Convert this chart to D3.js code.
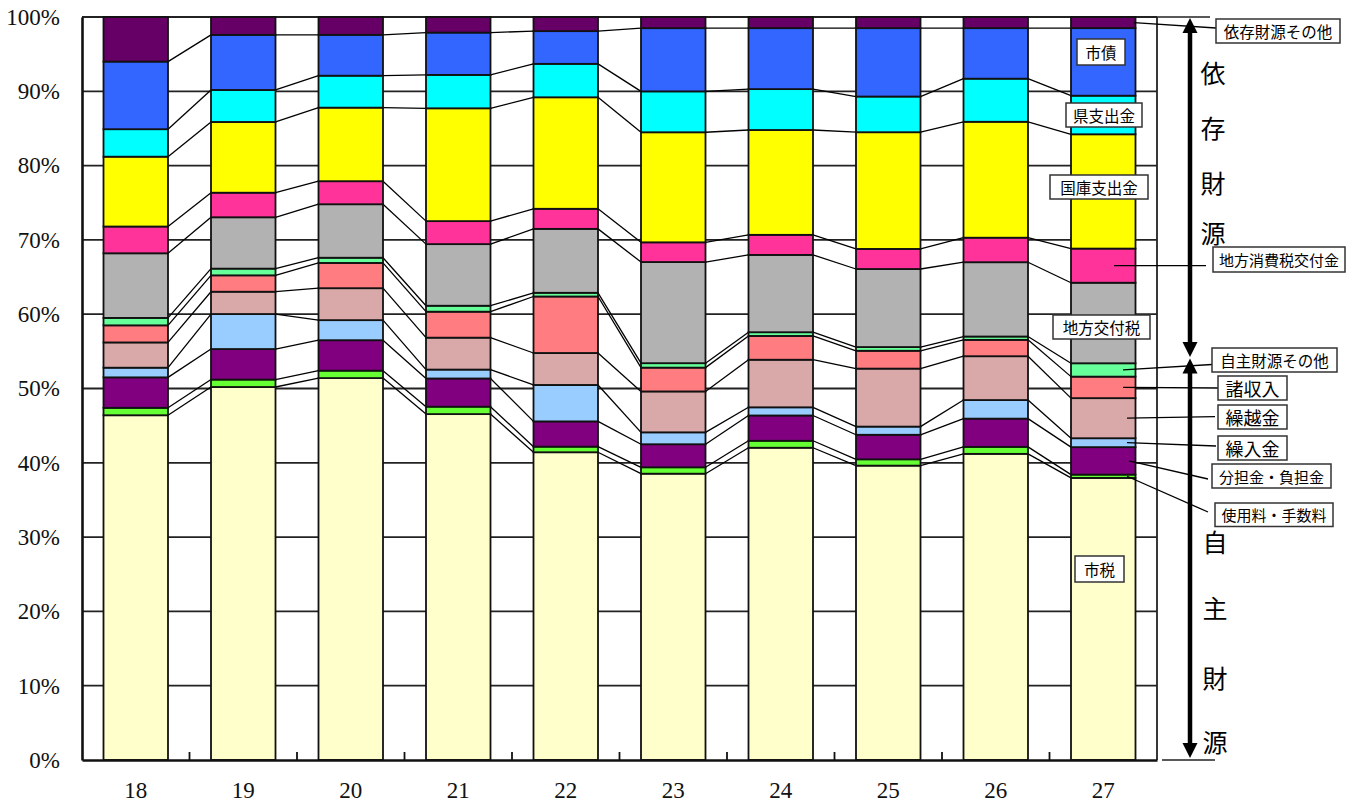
<!DOCTYPE html>
<html>
<head>
<meta charset="utf-8">
<script src="https://cdn.jsdelivr.net/npm/d3@7"></script>
<style>
  body { margin: 0; background: #fff; }
  svg { display: block; }
</style>
</head>
<body>
<div id="chart"></div>
<script>
// years (heisei) on the x axis
var years = ["18", "19", "20", "21", "22", "23", "24", "25", "26", "27"];

// share of revenue by source, %, bottom to top
var shizei      = [46.4, 50.1, 51.4, 46.6, 41.4, 38.5, 42.0, 39.6, 41.2, 38.0];
var shiyoryo    = [1.0, 1.0, 1.0, 1.0, 0.75, 0.86, 0.94, 0.85, 0.94, 0.45];
var buntankin   = [4.1, 4.1, 4.1, 3.8, 3.4, 3.1, 3.4, 3.3, 3.8, 3.7];
var kurirekin   = [1.3, 4.7, 2.7, 1.2, 4.9, 1.6, 1.1, 1.1, 2.5, 1.2];
var kurikoshi   = [3.4, 3.0, 4.3, 4.3, 4.3, 5.5, 6.4, 7.8, 5.9, 5.4];
var shoshunyu   = [2.3, 2.2, 3.4, 3.5, 7.6, 3.2, 3.2, 2.4, 2.2, 2.9];
var jishuOther  = [1.0, 0.9, 0.7, 0.8, 0.5, 0.6, 0.5, 0.5, 0.45, 1.8];
var kofuzei     = [8.7, 6.9, 7.2, 8.3, 8.6, 13.6, 10.4, 10.5, 10.0, 10.85];
var shohizei    = [3.6, 3.3, 3.1, 3.1, 2.7, 2.65, 2.7, 2.7, 3.3, 4.6];
var kokko       = [9.4, 9.5, 9.9, 15.2, 15.0, 14.8, 14.1, 15.7, 15.6, 15.4];
var kenshishutsu = [3.7, 4.3, 4.3, 4.5, 4.5, 5.5, 5.5, 4.8, 5.8, 5.2];
var shisai      = [9.1, 7.4, 5.5, 5.7, 4.4, 8.5, 8.2, 9.2, 6.8, 9.1];
var izonOther   = [6.0, 2.4, 2.4, 2.1, 1.9, 1.5, 1.5, 1.5, 1.5, 1.5];

var seriesNames = ["市税", "使用料・手数料", "分担金・負担金", "繰入金", "繰越金", "諸収入",
  "自主財源その他", "地方交付税", "地方消費税交付金", "国庫支出金", "県支出金", "市債", "依存財源その他"];
var seriesValues = [shizei, shiyoryo, buntankin, kurirekin, kurikoshi, shoshunyu,
  jishuOther, kofuzei, shohizei, kokko, kenshishutsu, shisai, izonOther];
var colors = ["#FFFFCC", "#66FF33", "#800080", "#99CCFF", "#D9A9A9", "#FF7C80",
  "#66FF99", "#B2B2B2", "#FF3399", "#FFFF00", "#00FFFF", "#3366FF", "#660066"];

var yTicks = [0, 0.1, 0.2, 0.3, 0.4, 0.5, 0.6, 0.7, 0.8, 0.9, 1.0];

// build rows for d3.stack
var rows = years.map(function(yr, i) {
  var r = { year: yr };
  seriesNames.forEach(function(n, k) { r[n] = seriesValues[k][i]; });
  return r;
});

var svgWidth = 1359, svgHeight = 805;
var plot = { left: 82, right: 1157, top: 17, bottom: 760 };
var jp = "'Noto Sans CJK JP', 'Noto Sans', sans-serif";
var serif = "'Liberation Serif', 'DejaVu Serif', serif";

var svg = d3.select("#chart").append("svg")
  .attr("width", svgWidth)
  .attr("height", svgHeight);

var x = d3.scaleBand()
  .domain(years)
  .range([plot.left, plot.right])
  .paddingInner(0.4)
  .paddingOuter(0.2);

var y = d3.scaleLinear()
  .domain([0, 1])
  .range([plot.bottom, plot.top]);

var stack = d3.stack()
  .keys(seriesNames)
  .offset(d3.stackOffsetExpand);
var layers = stack(rows);

// gridlines
svg.append("g").selectAll("line")
  .data(yTicks.slice(1))
  .enter().append("line")
    .attr("x1", plot.left).attr("x2", plot.right)
    .attr("y1", function(d) { return y(d); })
    .attr("y2", function(d) { return y(d); })
    .attr("stroke", "#222")
    .attr("stroke-width", 1.8);

// right edge of plot
svg.append("line")
  .attr("x1", plot.right).attr("x2", plot.right)
  .attr("y1", plot.top).attr("y2", plot.bottom)
  .attr("stroke", "#222").attr("stroke-width", 1.8);

// series lines between bars
var bw = x.bandwidth();
layers.slice(0, layers.length - 1).forEach(function(layer) {
  for (var i = 0; i < years.length - 1; i++) {
    svg.append("line")
      .attr("x1", x(years[i]) + bw)
      .attr("y1", y(layer[i][1]))
      .attr("x2", x(years[i + 1]))
      .attr("y2", y(layer[i + 1][1]))
      .attr("stroke", "#000")
      .attr("stroke-width", 1.3);
  }
});

// bars
svg.append("g").selectAll("g")
  .data(layers)
  .enter().append("g")
    .attr("fill", function(d, k) { return colors[k]; })
  .selectAll("rect")
  .data(function(d) { return d; })
  .enter().append("rect")
    .attr("x", function(d) { return x(d.data.year); })
    .attr("y", function(d) { return y(d[1]); })
    .attr("width", bw)
    .attr("height", function(d) { return y(d[0]) - y(d[1]); })
    .attr("stroke", "#111")
    .attr("stroke-width", 1.8);

// y axis
var yAxis = svg.append("g")
  .attr("transform", "translate(" + plot.left + ",0)")
  .call(d3.axisLeft(y).tickValues(yTicks).tickFormat(d3.format(".0%")).tickSize(0).tickPadding(22));
yAxis.select(".domain").attr("stroke", "#111").attr("stroke-width", 2.6);
yAxis.selectAll("text")
  .attr("font-family", serif)
  .attr("font-size", 23)
  .attr("fill", "#111");

// x axis
var xAxis = svg.append("g")
  .attr("transform", "translate(0," + plot.bottom + ")")
  .call(d3.axisBottom(x).tickSize(0).tickPadding(22));
xAxis.select(".domain").attr("stroke", "#111").attr("stroke-width", 2.6);
xAxis.selectAll("text")
  .attr("font-family", serif)
  .attr("font-size", 23)
  .attr("fill", "#111");

// inward ticks between the categories
svg.append("g").selectAll("line")
  .data(years.slice(0, years.length - 1))
  .enter().append("line")
    .attr("x1", function(d) { return x(d) + bw + x.step() * 0.2; })
    .attr("x2", function(d) { return x(d) + bw + x.step() * 0.2; })
    .attr("y1", plot.bottom - 8)
    .attr("y2", plot.bottom)
    .attr("stroke", "#111")
    .attr("stroke-width", 1.8);

// bracket lines at the right
svg.append("line")
  .attr("x1", plot.right).attr("x2", 1210)
  .attr("y1", plot.top).attr("y2", plot.top)
  .attr("stroke", "#222").attr("stroke-width", 1.5);
svg.append("line")
  .attr("x1", 1162).attr("x2", 1215)
  .attr("y1", plot.bottom).attr("y2", plot.bottom)
  .attr("stroke", "#222").attr("stroke-width", 1.5);

// double arrows
function doubleArrow(ax, yTop, yBot) {
  var head = 15, half = 7.5;
  svg.append("line")
    .attr("x1", ax).attr("x2", ax)
    .attr("y1", yTop + head - 1).attr("y2", yBot - head + 1)
    .attr("stroke", "#000").attr("stroke-width", 4.5);
  svg.append("path")
    .attr("d", "M" + ax + "," + yTop + "L" + (ax - half) + "," + (yTop + head) + "L" + (ax + half) + "," + (yTop + head) + "Z")
    .attr("fill", "#000");
  svg.append("path")
    .attr("d", "M" + ax + "," + yBot + "L" + (ax - half) + "," + (yBot - head) + "L" + (ax + half) + "," + (yBot - head) + "Z")
    .attr("fill", "#000");
}
doubleArrow(1190, 18, 357);
doubleArrow(1190, 358.5, 758);

// vertical group titles
function verticalText(str, cx, ys) {
  str.split("").forEach(function(ch, i) {
    svg.append("text")
      .attr("x", cx).attr("y", ys[i])
      .attr("text-anchor", "middle")
      .attr("dominant-baseline", "central")
      .attr("font-family", jp)
      .attr("font-size", 25)
      .attr("fill", "#000")
      .text(ch);
  });
}
verticalText("依存財源", 1213, [72, 127, 182, 232]);
verticalText("自主財源", 1215, [541, 607, 677, 741]);

// label boxes: s = series index (leader from last bar), lx = leader start x, ex/ey = leader end
var last = years.length - 1;
var labels = [
  { s: 12, bx: 1216, by: 19, w: 124, h: 24, fs: 15.5, lx: 1134, ex: 1216, ey: 28 },
  { s: 11, bx: 1077, by: 39, w: 48, h: 26, fs: 15.5 },
  { s: 10, bx: 1066, by: 103, w: 76, h: 24, fs: 15.5 },
  { s: 9, bx: 1050, by: 175, w: 98, h: 24, fs: 15.5 },
  { s: 8, bx: 1213, by: 247, w: 132, h: 25, fs: 15, lx: 1114, ex: 1206, ey: null },
  { s: 7, bx: 1053, by: 315, w: 97, h: 24, fs: 15.5 },
  { s: 6, bx: 1212, by: 348, w: 125, h: 24, fs: 15.5, lx: 1123, ex: 1212, ey: 364.5 },
  { s: 5, bx: 1218, by: 376, w: 69, h: 24, fs: 18, lx: 1123, ex: 1218, ey: 388 },
  { s: 4, bx: 1218, by: 405, w: 69, h: 24, fs: 18, lx: 1127, ex: 1215, ey: 416.7 },
  { s: 3, bx: 1218, by: 436, w: 69, h: 24, fs: 18, lx: 1127, ex: 1216, ey: 446 },
  { s: 2, bx: 1212, by: 464, w: 119, h: 24, fs: 15, lx: 1129, ex: 1208, ey: 479 },
  { s: 1, bx: 1215, by: 503, w: 118, h: 23.5, fs: 15, lx: 1127, ex: 1208, ey: 512 },
  { s: 0, bx: 1075, by: 556, w: 49, h: 26, fs: 15.5 }
];

labels.forEach(function(l) {
  if (l.lx) {
    var seg = layers[l.s][last];
    var sy = y((seg[0] + seg[1]) / 2);
    svg.append("line")
      .attr("x1", l.lx).attr("y1", sy)
      .attr("x2", l.ex).attr("y2", l.ey === null ? sy : l.ey)
      .attr("stroke", "#000").attr("stroke-width", 1.3);
  }
  svg.append("rect")
    .attr("x", l.bx).attr("y", l.by)
    .attr("width", l.w).attr("height", l.h)
    .attr("fill", "#fff")
    .attr("stroke", "#333")
    .attr("stroke-width", 1.5);
  svg.append("text")
    .attr("x", l.bx + l.w / 2)
    .attr("y", l.by + l.h / 2)
    .attr("text-anchor", "middle")
    .attr("dominant-baseline", "central")
    .attr("font-family", jp)
    .attr("font-size", l.fs)
    .attr("fill", "#000")
    .text(seriesNames[l.s]);
});
</script>
</body>
</html>
